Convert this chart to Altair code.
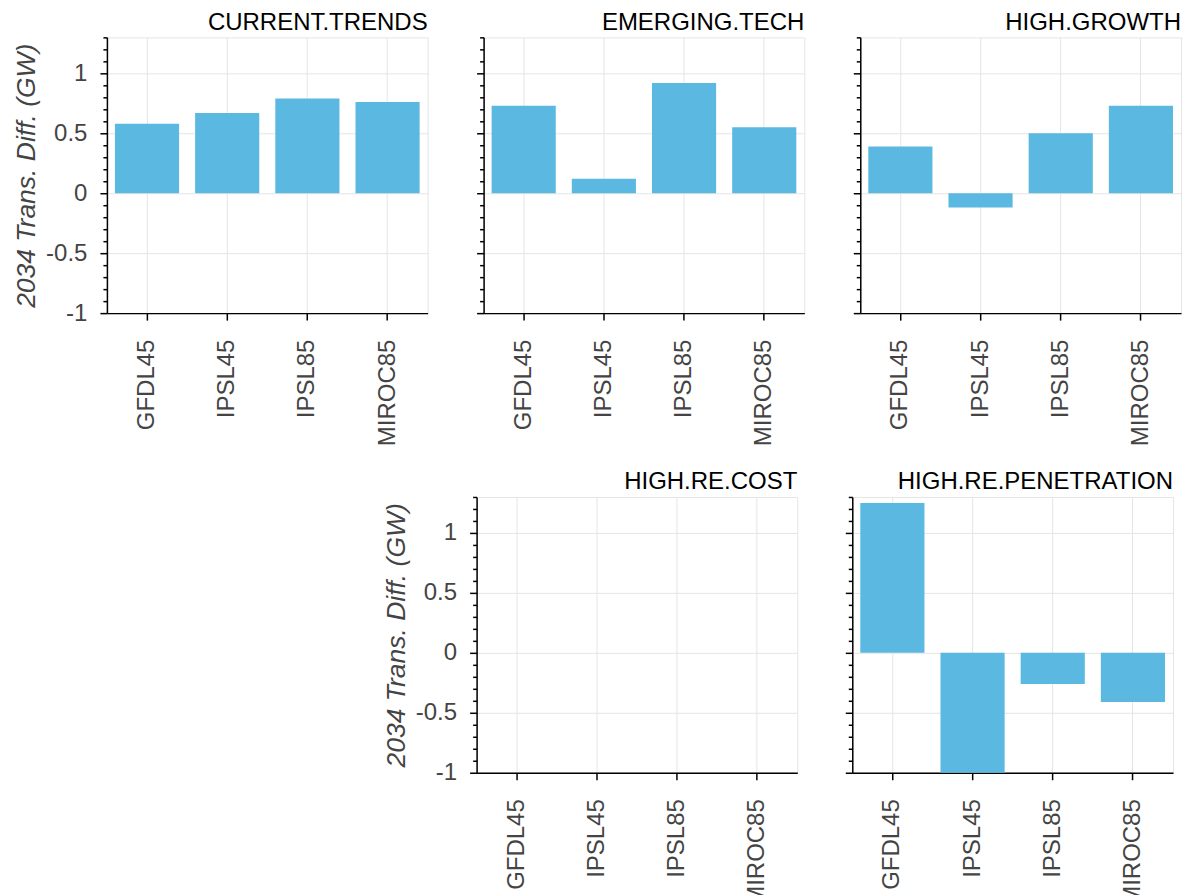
import altair as alt
import pandas as pd

models = ["GFDL45", "IPSL45", "IPSL85", "MIROC85"]
scenarios = ["CURRENT.TRENDS", "EMERGING.TECH", "HIGH.GROWTH", "HIGH.RE.COST", "HIGH.RE.PENETRATION"]
current_trends = [0.58, 0.67, 0.79, 0.76]
emerging_tech = [0.73, 0.12, 0.92, 0.55]
high_growth = [0.39, -0.12, 0.50, 0.73]
high_re_cost = [0.0, 0.0, 0.0, 0.0]
high_re_penetration = [1.25, -1.0, -0.26, -0.41]
y_ticks = [-1.0, -0.9, -0.8, -0.7, -0.6, -0.5, -0.4, -0.3, -0.2, -0.1, 0.0,
           0.1, 0.2, 0.3, 0.4, 0.5, 0.6, 0.7, 0.8, 0.9, 1.0, 1.1, 1.2, 1.3]

series = [current_trends, emerging_tech, high_growth, high_re_cost, high_re_penetration]
rows = []
for s, vals in zip(scenarios, series):
    for m, v in zip(models, vals):
        rows.append({"scenario": s, "model": m, "value": v})
df = pd.DataFrame(rows)

FONT = "Liberation Sans"
major = "abs(datum.value*2 - round(datum.value*2)) < 0.001"
W, H = 321, 276
LBL = 24


def panel(scn, show_y):
    yaxis_kw = dict(
        values=y_ticks,
        tickSize={"condition": {"test": major, "value": 7}, "value": 4},
        gridOpacity={"condition": {"test": major, "value": 1}, "value": 0},
        gridColor="#e5e5e5",
        labelOverlap=False,
        labels=show_y,
        labelFontSize={"condition": {"test": major, "value": LBL}, "value": 0},
        labelColor="#444",
        labelPadding=13,
    )
    if show_y:
        yaxis_kw.update(
            labelExpr=f"{major} ? toString(datum.value) : ''",
            title="2034 Trans. Diff. (GW)",
            titleFontStyle="italic",
            titleFontWeight="normal",
            titleFontSize=26.5,
            titleColor="#444",
            titlePadding=5,
        )
    else:
        yaxis_kw.update(title=None)
    return (
        alt.Chart(df)
        .transform_filter(alt.datum.scenario == scn)
        .mark_bar(color="#5BB9E1")
        .encode(
            x=alt.X(
                "model:N",
                scale=alt.Scale(domain=models, paddingInner=0.2, paddingOuter=0.1),
                axis=alt.Axis(
                    title=None,
                    labelAngle=-90,
                    labelFontSize=LBL,
                    labelColor="#444",
                    tickSize=7,
                    labelPadding=19,
                    grid=True,
                    gridColor="#e5e5e5",
                ),
            ),
            y=alt.Y(
                "value:Q",
                scale=alt.Scale(domain=[-1, 1.3], nice=False, zero=False),
                axis=alt.Axis(**yaxis_kw),
            ),
        )
        .properties(
            width=W,
            height=H,
            title=alt.TitleParams(
                scn, anchor="end", fontSize=24, font=FONT, fontWeight="normal",
                color="black", offset=2,
            ),
        )
    )


p1 = panel("CURRENT.TRENDS", True)
p2 = panel("EMERGING.TECH", False)
p3 = panel("HIGH.GROWTH", False)
p4 = panel("HIGH.RE.COST", True)
p5 = panel("HIGH.RE.PENETRATION", False)

spacer = (
    alt.Chart(df)
    .mark_point(opacity=0)
    .encode(x=alt.value(0), y=alt.value(0))
    .properties(width=230, height=H, view=alt.ViewBackground(stroke="transparent"))
)

chart = (
    alt.vconcat(
        alt.hconcat(p1, p2, p3, spacing=46),
        alt.hconcat(spacer, p4, p5, spacing=45),
        spacing=22,
    )
    .properties(padding={"left": 5, "top": 1, "right": 0, "bottom": 5})
    .configure_view(stroke="#e5e5e5", strokeWidth=1)
    .configure_axis(
        domainColor="black",
        tickColor="black",
        domainWidth=1.5,
        tickWidth=1.5,
        labelFont=FONT,
        titleFont=FONT,
    )
)

chart.save("out.html", embed_options={"renderer": "svg", "actions": False})
